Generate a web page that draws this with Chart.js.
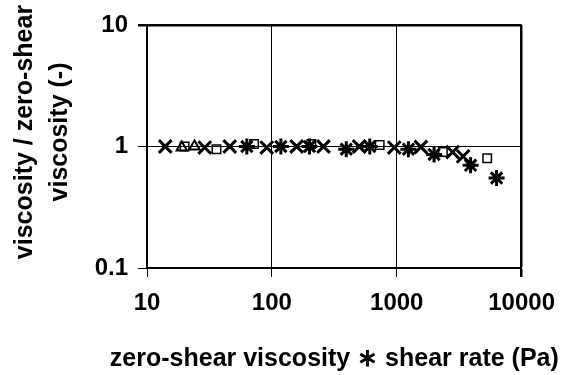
<!DOCTYPE html>
<html>
<head>
<meta charset="utf-8">
<script src="https://cdn.jsdelivr.net/npm/chart.js@4"></script>
<style>
  html, body { margin: 0; padding: 0; background: #fff; }
  #wrap { width: 567px; height: 375px; }
</style>
</head>
<body>
<div id="wrap"><canvas id="my_chart" width="567" height="375"></canvas></div>
<script>
// x = zero-shear viscosity * shear rate (Pa), y = viscosity / zero-shear viscosity
var crossX = [14, 29, 46, 91, 158, 259, 500, 955, 1560, 2800, 3400];
var crossY = [1.0, 0.98, 1.0, 0.98, 1.0, 1.0, 1.0, 0.98, 0.99, 0.9, 0.83];

var starX = [63, 118, 200, 394, 608, 1240, 1990, 3900, 6300];
var starY = [1.0, 1.0, 1.0, 0.95, 1.0, 0.95, 0.86, 0.7, 0.55];

var squareX = [20, 36, 72, 207, 730, 2340, 5300];
var squareY = [1.0, 0.95, 1.05, 1.05, 1.03, 0.9, 0.8];

var triX = [19, 24];
var triY = [0.98, 1.0];

var xTicks = [10, 100, 1000, 10000];
var yTicks = [0.1, 1, 10];

var xTitle = 'zero-shear viscosity \u2217 shear rate (Pa)';
var yTitle = ['viscosity / zero-shear', 'viscosity (-)'];

function pts(xs, ys) {
    return xs.map(function (x, i) { return { x: x, y: ys[i] }; });
}

// axis titles drawn by hand: the built-in ones get squeezed to the axis length
var axisTitles = {
    id: 'axisTitles',
    afterDraw: function (chart) {
        var c = chart.ctx;
        var area = chart.chartArea;
        c.save();
        c.fillStyle = '#000';
        c.font = 'bold 25px "Liberation Sans"';
        c.textAlign = 'center';
        c.textBaseline = 'alphabetic';
        c.fillText(xTitle, (area.left + area.right) / 2, chart.height - 9);

        c.textBaseline = 'middle';
        var cols = [25, 60];
        yTitle.forEach(function (line, i) {
            c.save();
            c.translate(cols[i], 132);
            c.rotate(-Math.PI / 2);
            c.fillText(line, 0, 0);
            c.restore();
        });
        c.restore();
    }
};

var ctx = document.getElementById("my_chart").getContext("2d");

new Chart(ctx, {
    type: 'scatter',
    data: {
        datasets: [{
            data: pts(squareX, squareY),
            pointStyle: 'rect',
            pointRadius: 6,
            borderColor: '#000',
            backgroundColor: 'rgba(0,0,0,0)',
            borderWidth: 1.5
        }, {
            data: pts(triX, triY),
            pointStyle: 'triangle',
            pointRadius: 6,
            borderColor: '#000',
            backgroundColor: 'rgba(0,0,0,0)',
            borderWidth: 2
        }, {
            data: pts(crossX, crossY),
            pointStyle: 'crossRot',
            pointRadius: 9,
            borderColor: '#000',
            borderWidth: 3
        }, {
            data: pts(starX, starY),
            pointStyle: 'star',
            pointRadius: 8,
            borderColor: '#000',
            borderWidth: 3
        }]
    },
    plugins: [axisTitles],
    options: {
        responsive: false,
        animation: false,
        layout: {
            padding: { top: 25, right: 40, left: 0, bottom: 0 }
        },
        plugins: {
            legend: { display: false },
            tooltip: { enabled: false }
        },
        scales: {
            x: {
                type: 'logarithmic',
                min: 10,
                max: 10000,
                afterBuildTicks: function (axis) {
                    axis.ticks = xTicks.map(function (v) { return { value: v }; });
                },
                afterFit: function (axis) { axis.height = 107; },
                ticks: {
                    color: '#000',
                    font: { family: 'Liberation Sans', size: 24, weight: 'bold' },
                    padding: 12,
                    maxRotation: 0,
                    callback: function (v) { return String(v); }
                },
                grid: {
                    color: '#000',
                    lineWidth: function (c) { return (c.index === xTicks.length - 1) ? 2.5 : 1; },
                    tickLength: 9
                },
                border: { color: '#000', width: 2 },
                title: { display: false }
            },
            y: {
                type: 'logarithmic',
                min: 0.1,
                max: 10,
                afterBuildTicks: function (axis) {
                    axis.ticks = yTicks.map(function (v) { return { value: v }; });
                },
                afterFit: function (axis) { axis.width = 147; },
                ticks: {
                    color: '#000',
                    font: { family: 'Liberation Sans', size: 24, weight: 'bold' },
                    padding: 10,
                    callback: function (v) { return String(v); }
                },
                grid: {
                    color: '#000',
                    lineWidth: function (c) { return (c.index === yTicks.length - 1) ? 2.5 : 1; },
                    tickLength: 9
                },
                border: { color: '#000', width: 2 },
                title: { display: false }
            }
        }
    }
});
</script>
</body>
</html>
